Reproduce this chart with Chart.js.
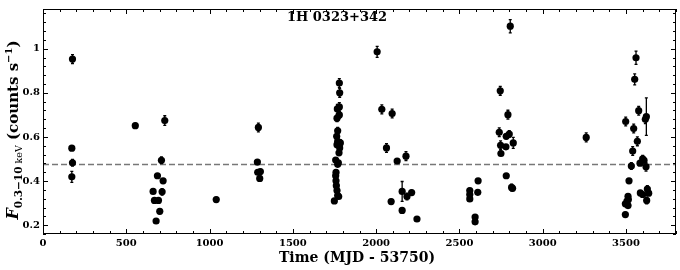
<!DOCTYPE html>
<html>
<head>
<meta charset="utf-8">
<script src="https://cdn.jsdelivr.net/npm/chart.js@4/dist/chart.umd.min.js"></script>
<style>
  html, body { margin: 0; padding: 0; background: #fff; }
  #wrap { width: 680px; height: 270px; position: relative; }
</style>
</head>
<body>
<div id="wrap"><canvas id="lightCurve"></canvas></div>
<script>
// observation times (MJD - 53750)
const times = [
    177, 173, 177, 173, 554, 731, 711, 687, 721, 661, 715, 669, 693, 701, 679, 1040,
    1293, 1287, 1289, 1305, 1301,
    1779, 1781, 1779, 1767, 1779, 1765, 1769, 1763, 1769, 1785, 1765, 1781, 1777,
    1757, 1773, 1769, 1759, 1757, 1759, 1761, 1765, 1769, 1775, 1749,
    2006, 2034, 2096, 2062, 2126, 2179, 2156, 2185, 2213, 2090, 2156, 2245,
    2562, 2562, 2562, 2612, 2610, 2594, 2594,
    2805, 2745, 2791, 2739, 2781, 2799, 2747, 2779, 2823, 2749, 2781, 2813, 2819,
    3261,
    3560, 3552, 3576, 3498, 3546, 3622, 3616, 3568, 3540, 3600, 3584, 3608, 3532,
    3620, 3518, 3628, 3636, 3512, 3514, 3506, 3496, 3586, 3600, 3624, 3512, 3496
];
// 0.3-10 keV count rate
const flux = [
    0.953, 0.549, 0.483, 0.419, 0.651, 0.674, 0.494, 0.424, 0.401, 0.353, 0.351, 0.312, 0.312, 0.263, 0.219, 0.316,
    0.643, 0.486, 0.440, 0.443, 0.412,
    0.844, 0.800, 0.736, 0.727, 0.700, 0.685, 0.628, 0.603, 0.580, 0.573, 0.565, 0.550, 0.528,
    0.495, 0.483, 0.476, 0.439, 0.424, 0.401, 0.379, 0.357, 0.334, 0.330, 0.310,
    0.986, 0.725, 0.706, 0.550, 0.491, 0.513, 0.353, 0.330, 0.348, 0.307, 0.267, 0.228,
    0.357, 0.339, 0.319, 0.401, 0.349, 0.237, 0.215,
    1.102, 0.809, 0.701, 0.621, 0.603, 0.613, 0.562, 0.555, 0.573, 0.525, 0.424, 0.371, 0.367,
    0.598,
    0.959, 0.861, 0.719, 0.670, 0.638, 0.692, 0.680, 0.580, 0.536, 0.501, 0.481, 0.494, 0.468,
    0.465, 0.401, 0.364, 0.345, 0.331, 0.316, 0.309, 0.297, 0.346, 0.339, 0.312, 0.289, 0.248
];
// 1-sigma errors
const fluxErr = [
    0.020, 0.010, 0.015, 0.025, 0.010, 0.022, 0.015, 0.010, 0.010, 0.010, 0.015, 0.010, 0.010, 0.010, 0.010, 0.010,
    0.020, 0.010, 0.010, 0.010, 0.010,
    0.020, 0.020, 0.020, 0.020, 0.015, 0.015, 0.015, 0.015, 0.010, 0.015, 0.010, 0.010, 0.010,
    0.010, 0.010, 0.010, 0.010, 0.010, 0.010, 0.010, 0.010, 0.010, 0.010, 0.010,
    0.025, 0.020, 0.020, 0.020, 0.010, 0.020, 0.045, 0.015, 0.010, 0.010, 0.010, 0.010,
    0.010, 0.010, 0.010, 0.010, 0.010, 0.010, 0.010,
    0.030, 0.020, 0.020, 0.020, 0.010, 0.015, 0.020, 0.010, 0.025, 0.010, 0.010, 0.015, 0.010,
    0.020,
    0.030, 0.025, 0.020, 0.020, 0.020, 0.085, 0.020, 0.020, 0.020, 0.015, 0.010, 0.010, 0.015,
    0.020, 0.010, 0.015, 0.010, 0.010, 0.010, 0.010, 0.010, 0.010, 0.010, 0.015, 0.010, 0.010
];
const meanFlux = 0.475;

const xTicks = [0, 500, 1000, 1500, 2000, 2500, 3000, 3500];
const yTicks = [0.2, 0.4, 0.6, 0.8, 1.0];
const xMinorStep = 100;
const yMinorStep = 0.04;

const serif = "'DejaVu Serif', 'Liberation Serif', serif";

// error bars + dashed mean level, drawn under the markers
const errorBars = {
    id: 'errorBars',
    beforeDatasetsDraw(chart) {
        const {ctx, chartArea, scales: {x, y}} = chart;
        ctx.save();
        ctx.beginPath();
        ctx.rect(chartArea.left, chartArea.top, chartArea.width, chartArea.height);
        ctx.clip();

        // mean level
        const ym = y.getPixelForValue(meanFlux);
        ctx.strokeStyle = '#777';
        ctx.lineWidth = 1.5;
        ctx.setLineDash([6, 3]);
        ctx.beginPath();
        ctx.moveTo(chartArea.left, ym);
        ctx.lineTo(chartArea.right, ym);
        ctx.stroke();
        ctx.setLineDash([]);

        ctx.strokeStyle = '#000';
        ctx.lineWidth = 1.3;
        times.forEach((t, i) => {
            const px = x.getPixelForValue(t);
            const y0 = y.getPixelForValue(flux[i] - fluxErr[i]);
            const y1 = y.getPixelForValue(flux[i] + fluxErr[i]);
            ctx.beginPath();
            ctx.moveTo(px, y0); ctx.lineTo(px, y1);
            ctx.moveTo(px - 1.5, y0); ctx.lineTo(px + 1.5, y0);
            ctx.moveTo(px - 1.5, y1); ctx.lineTo(px + 1.5, y1);
            ctx.stroke();
        });
        ctx.restore();
    }
};

// frame, inward ticks, titles
const frameAndText = {
    id: 'frameAndText',
    afterDraw(chart) {
        const {ctx, chartArea: a, scales: {x, y}} = chart;
        ctx.save();
        ctx.strokeStyle = '#000';
        ctx.lineWidth = 1;
        ctx.strokeRect(a.left + 0.5, a.top + 0.5, a.width - 1, a.height - 1);

        ctx.beginPath();
        for (let v = x.min; v <= x.max + 1e-6; v += xMinorStep) {
            const px = Math.round(x.getPixelForValue(v)) + 0.5;
            const len = xTicks.includes(Math.round(v)) ? 5 : 3;
            ctx.moveTo(px, a.bottom); ctx.lineTo(px, a.bottom - len);
            ctx.moveTo(px, a.top); ctx.lineTo(px, a.top + len);
        }
        for (let v = 0.16; v <= y.max + 1e-6; v += yMinorStep) {
            const py = Math.round(y.getPixelForValue(v)) + 0.5;
            const major = yTicks.some(t => Math.abs(t - v) < 1e-6);
            const len = major ? 5 : 3;
            ctx.moveTo(a.left, py); ctx.lineTo(a.left + len, py);
            ctx.moveTo(a.right, py); ctx.lineTo(a.right - len, py);
        }
        ctx.stroke();

        ctx.fillStyle = '#000';
        // source name
        ctx.font = 'bold 13px ' + serif;
        ctx.textAlign = 'center';
        ctx.textBaseline = 'middle';
        ctx.fillText('1H 0323+342', 337, 18);

        // x title
        ctx.font = 'bold 14px ' + serif;
        ctx.fillText('Time (MJD - 53750)', 357, 258);

        // y title with sub/superscripts
        const parts = [
            {t: 'F', f: 'italic bold 16px ' + serif, dy: 0},
            {t: '0.3\u221210', f: 'bold 10.5px ' + serif, dy: 4},
            {t: ' keV', f: '9.5px ' + serif, dy: 4},
            {t: ' (counts s', f: 'bold 15px ' + serif, dy: 0},
            {t: '\u22121', f: 'bold 10px ' + serif, dy: -6},
            {t: ')', f: 'bold 15px ' + serif, dy: 0}
        ];
        let total = 0;
        parts.forEach(p => { ctx.font = p.f; p.w = ctx.measureText(p.t).width; total += p.w; });
        ctx.translate(13, 130);
        ctx.rotate(-Math.PI / 2);
        ctx.textAlign = 'left';
        ctx.textBaseline = 'alphabetic';
        let cx = -total / 2;
        parts.forEach(p => {
            ctx.font = p.f;
            ctx.fillText(p.t, cx, 5 + p.dy);
            cx += p.w;
        });
        ctx.restore();
    }
};

const dataLC = {
    datasets: [
        {
            data: times.map((t, i) => ({x: t, y: flux[i]})),
            backgroundColor: '#000',
            borderWidth: 0,
            pointRadius: 3.6,
            pointHoverRadius: 3.6,
        },
    ]
};

const configLC = {
    type: 'scatter',
    data: dataLC,
    options: {
        responsive: false,
        animation: false,
        layout: {
            padding: {top: 5, right: 4, left: 0, bottom: 0}
        },
        scales: {
            x: {
                type: 'linear',
                min: 0,
                max: 3800,
                grid: {display: false, drawTicks: false},
                border: {display: false},
                afterBuildTicks: scale => { scale.ticks = xTicks.map(v => ({value: v})); },
                afterFit: scale => { scale.height = 36; },
                ticks: {
                    color: '#000',
                    padding: 3,
                    maxRotation: 0,
                    font: {family: serif, weight: 'bold', size: 10},
                    callback: value => String(value)
                }
            },
            y: {
                min: 0.16,
                max: 1.18,
                grid: {display: false, drawTicks: false},
                border: {display: false},
                afterBuildTicks: scale => { scale.ticks = yTicks.map(v => ({value: v})); },
                afterFit: scale => { scale.width = 43; },
                ticks: {
                    color: '#000',
                    padding: 3,
                    font: {family: serif, weight: 'bold', size: 10},
                    callback: value => String(value)
                }
            }
        },
        plugins: {
            legend: {display: false},
            tooltip: {enabled: false}
        }
    },
    plugins: [errorBars, frameAndText]
};

const canvas = document.getElementById('lightCurve');
canvas.width = 680;
canvas.height = 270;
var chartLC = new Chart(canvas, configLC);
</script>
</body>
</html>
